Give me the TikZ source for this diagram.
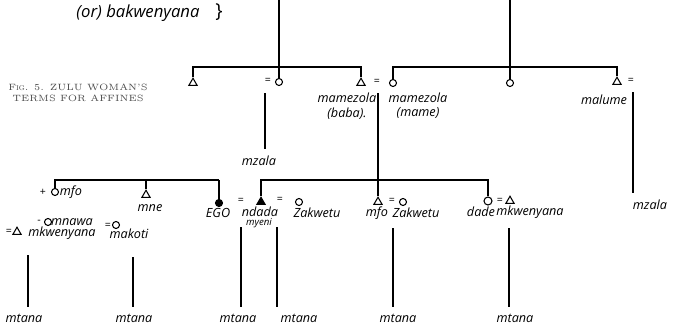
\documentclass[tikz,border=0pt]{standalone}
\usepackage{fontspec}
\newfontfamily\hand{Open Sans}
\usetikzlibrary{positioning,shapes.geometric}

\tikzset{
	male/.style={draw, regular polygon, regular polygon sides=3, inner sep=0pt, minimum size=0.19cm, line width=0.6pt},
	female/.style={draw, circle, inner sep=0pt, minimum size=0.14cm, line width=0.6pt},
	term/.style={font=\hand\itshape\fontsize{7.2}{8}\selectfont, inner sep=0pt},
	small term/.style={font=\hand\itshape\fontsize{5.5}{6}\selectfont, inner sep=0pt},
	kid/.style={term, outer sep=4pt},
	eq/.style={font=\hand\fontsize{6}{7}\selectfont, inner sep=0pt},
	caption/.style={font=\fontsize{5.2}{6}\selectfont, text=black!70, inner sep=0pt},
}

\begin{document}
\begin{tikzpicture}[x=0.02cm, y=-0.02cm, line width=0.6pt]
	\useasboundingbox (0,0) rectangle (674,332);

	% Instances/Symbols:
	\node[male] (uncle) at (193,83) {};
	\node[female] (aunt) at (279,82) {};
	\node[male] (baba) at (361,83) {};
	\node[female] (mame) at (393,83) {};
	\node[female] (sis) at (510,83) {};
	\node[male] (malume) at (617,82) {};

	\node[female] (mfoL) at (55,192) {};
	\node[male] (mne) at (146,195) {};
	\node[female, fill] (ego) at (219,203) {};
	\node[female] (mnawa) at (48,222) {};
	\node[male] (mkwL) at (17,232) {};
	\node[female] (makoti) at (116,225) {};

	\node[male, fill] (ndada) at (261,202) {};
	\node[female] (zakA) at (299,202) {};
	\node[male] (mfoR) at (378,202) {};
	\node[female] (zakB) at (403,202) {};
	\node[female, minimum size=0.16cm] (dade) at (488,201) {};
	\node[male] (mkwR) at (510,201) {};

	% Junctions:
	\coordinate (topL) at (279,0);
	\coordinate (topR) at (510,0);
	\coordinate (barL) at (279,67);
	\coordinate (barR) at (510,67);
	\coordinate (cpAunt) at (265,93);
	\coordinate (cpBaba) at (378,93);
	\coordinate (cpMalume) at (633,92);
	\coordinate (barEgo) at (146,180);
	\coordinate (barNdada) at (378,180);
	\coordinate (lnA) at (28,255);
	\coordinate (lnB) at (133,257);
	\coordinate (lnC) at (241,227);
	\coordinate (lnD) at (277,227);
	\coordinate (lnE) at (393,228);
	\coordinate (lnF) at (509,228);

	% Labels
	\node[term, font=\hand\itshape\fontsize{9.5}{10}\selectfont] (bakw) at (138,13) {(or) bakwenyana};
	\node[font=\hand\fontsize{11}{12}\selectfont, inner sep=0pt] (brace) at (219,12) {\}};
	\node[caption] (fig) at (78,87) {F\textsc{ig}. 5. ZULU WOMAN'S};
	\node[caption, below=2pt of fig] (figB) {TERMS FOR AFFINES};

	\node[eq] (eqAunt) at (268,81) {=};
	\node[eq] (eqBaba) at (377,82) {=};
	\node[eq] (eqMalume) at (631,81) {=};
	\node[term] (mamezolaB) at (347,98) {mamezola};
	\node[term, below=2pt of mamezolaB] (babaTxt) {(baba).};
	\node[term] (mamezolaM) at (418,98) {mamezola};
	\node[term, below=2pt of mamezolaM] (mameTxt) {(mame)};
	\node[term] (malumeTxt) at (604,100) {malume};
	\node[kid] (mzalaL) at (259,161) {mzala};
	\node[kid] (mzalaR) at (650,205) {mzala};

	\node[eq] (plus) at (43,192) {+};
	\node[term] (mfoTxtL) at (71,192) {mfo};
	\node[term] (mneTxt) at (150,208) {mne};
	\node[term] (egoTxt) at (218,213) {EGO};
	\node[eq] (minus) at (39,222) {-};
	\node[term] (mnawaTxt) at (72,222) {mnawa};
	\node[eq] (eqMkwL) at (9,232) {=};
	\node[term] (mkwTxtL) at (62,233) {mkwenyana};
	\node[eq] (eqMakoti) at (108,226) {=};
	\node[term] (makotiTxt) at (129,234) {makoti};

	\node[eq] (eqEgo) at (241,201) {=};
	\node[term] (ndadaTxt) at (260,212) {ndada};
	\node[small term] (myeniTxt) at (259,223) {myeni};
	\node[eq] (eqNdada) at (280,200) {=};
	\node[term] (zakTxtA) at (317,213) {Zakwetu};
	\node[term] (mfoTxtR) at (377,213) {mfo};
	\node[eq] (eqMfo) at (392,201) {=};
	\node[term] (zakTxtB) at (416,213) {Zakwetu};
	\node[term] (dadeTxt) at (481,212) {dade};
	\node[eq] (eqDade) at (500,201) {=};
	\node[term] (mkwTxtR) at (530,212) {mkwenyana};

	\node[kid] (mtanaA) at (24,318) {mtana};
	\node[kid] (mtanaB) at (134,318) {mtana};
	\node[kid] (mtanaC) at (238,318) {mtana};
	\node[kid] (mtanaD) at (299,318) {mtana};
	\node[kid] (mtanaE) at (398,318) {mtana};
	\node[kid] (mtanaF) at (515,318) {mtana};

	% Lines:
	\draw (topL) -- (aunt.north);
	\draw (uncle.north) |- (barL) -| (baba.north);
	\draw (topR) -- (sis.north);
	\draw (mame.north) |- (barR) -| (malume.north);
	\draw (cpAunt) -- (cpAunt |- mzalaL.north);
	\draw (cpBaba) -- (mfoR.north);
	\draw (cpMalume) -- (cpMalume |- mzalaR.north);

	\draw (mfoL.north) |- (barEgo) -- (ego.north |- barEgo);
	\draw (barEgo) -- (mne.north);
	\draw[line width=1.2pt] (ego.north |- barEgo) -- (ego.north);
	\draw (ndada.north) |- (barNdada) -| (dade.north);

	\draw (lnA) -- (lnA |- mtanaA.north);
	\draw (lnB) -- (lnB |- mtanaB.north);
	\draw (lnC) -- (lnC |- mtanaC.north);
	\draw (lnD) -- (lnD |- mtanaD.north);
	\draw (lnE) -- (lnE |- mtanaE.north);
	\draw (lnF) -- (lnF |- mtanaF.north);

\end{tikzpicture}
\end{document}
